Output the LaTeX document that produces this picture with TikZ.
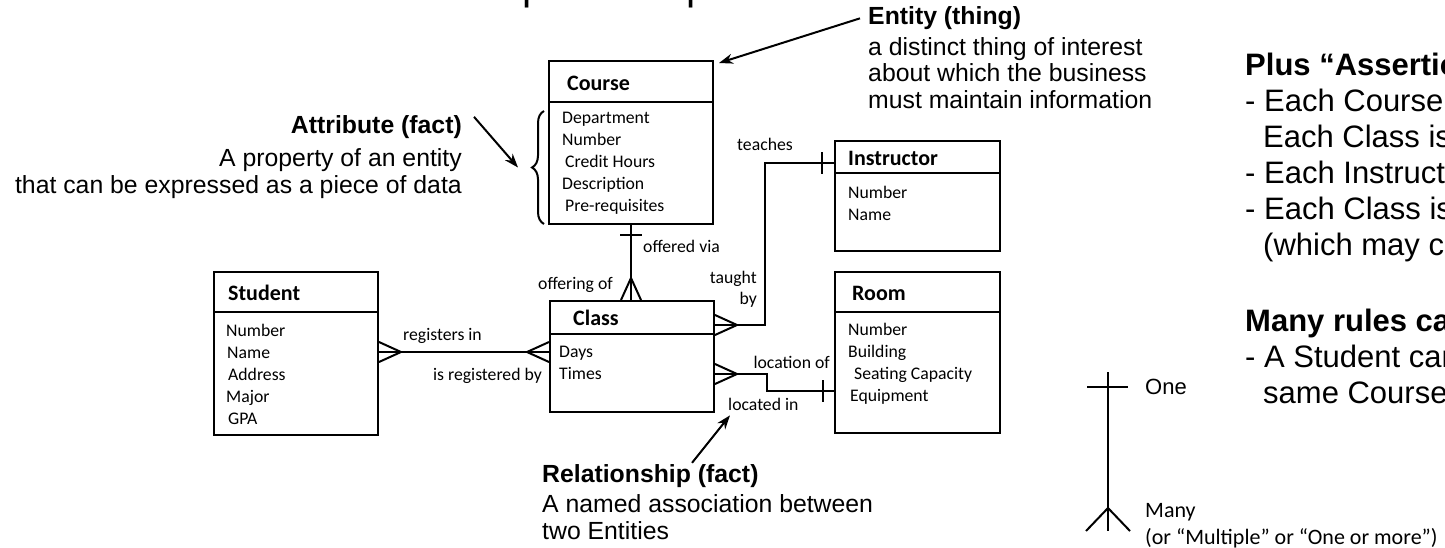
\documentclass[tikz,border=0pt]{standalone}
\usepackage{fontspec}
\setmainfont{Liberation Sans}
\newfontfamily\erdfont{Carlito}
\usetikzlibrary{calc,arrows.meta,decorations.pathreplacing}

\tikzset{
  ent/.style={draw, line width=2pt, anchor=north west, inner sep=0pt},
  sepline/.style={line width=2pt},
  enttitle/.style={font=\erdfont\bfseries\fontsize{22}{26}\selectfont, anchor=base west, inner sep=0pt},
  attr/.style={font=\erdfont\fontsize{17.7}{22}\selectfont, anchor=base west, inner sep=0pt},
  rel/.style={line width=2pt},
  lbl/.style={font=\erdfont\fontsize{17.7}{21}\selectfont, inner sep=0pt},
  annotext/.style={font=\fontsize{24.8}{26.5}\selectfont, inner sep=0pt},
  rulestext/.style={font=\fontsize{31}{36}\selectfont, align=left, anchor=base west, inner sep=0pt},
  pointer/.style={line width=2pt, -{Stealth[length=14pt,width=10pt]}},
  pics/crow/.style={code={\draw[rel] (0,-10) -- (22,0) -- (0,10);}},
  pics/onebar/.style={code={\draw[rel] (0,-11) -- (0,11);}},
}

\begin{document}
\begin{tikzpicture}[x=1pt, y=-1pt]
\path[use as bounding box] (0,0) rectangle (1445,547);
\clip (0,0) rectangle (1445,547);

% title, cut off at the top edge
\node[anchor=base west, inner sep=0pt, font=\fontsize{41}{41}\selectfont] (title) at (454,-1) {Graphic components};

% entities
\node[ent, minimum width=164pt, minimum height=163pt] (course) at (548,60) {};
\draw[sepline] ($(course.north west)+(0,42)$) -- ($(course.north east)+(0,42)$);
\node[enttitle] (course-t) at ($(course.north west)+(19,30)$) {Course};
\foreach \a [count=\i] in {Department,Number,\hspace{3pt}Credit Hours,Description,\hspace{3pt}Pre-requisites}
  \node[attr] (course-\i) at ($(course.north west)+(14,41+22*\i)$) {\a};

\node[ent, minimum width=164pt, minimum height=163pt] (student) at (213,271) {};
\draw[sepline] ($(student.north west)+(0,41)$) -- ($(student.north east)+(0,41)$);
\node[enttitle] (student-t) at ($(student.north west)+(15,29)$) {Student};
\foreach \a [count=\i] in {Number,\hspace{1pt}Name,\hspace{2pt}Address,Major,\hspace{2pt}GPA}
  \node[attr] (student-\i) at ($(student.north west)+(13,43+22*\i)$) {\a};

\node[ent, minimum width=165pt, minimum height=110pt] (instructor) at (834,140) {};
\draw[sepline] ($(instructor.north west)+(0,33)$) -- ($(instructor.north east)+(0,33)$);
\node[enttitle] (instructor-t) at ($(instructor.north west)+(14,25)$) {Instructor};
\foreach \a [count=\i] in {Number,Name}
  \node[attr] (instructor-\i) at ($(instructor.north west)+(14,36+22*\i)$) {\a};

\node[ent, minimum width=165pt, minimum height=161pt] (room) at (834,271) {};
\draw[sepline] ($(room.north west)+(0,41)$) -- ($(room.north east)+(0,41)$);
\node[enttitle] (room-t) at ($(room.north west)+(18,29)$) {Room};
\foreach \a [count=\i] in {Number,Building,\hspace{6pt}Seating Capacity,\hspace{2pt}Equipment}
  \node[attr] (room-\i) at ($(room.north west)+(14,42+22*\i)$) {\a};

\node[ent, minimum width=164pt, minimum height=111pt] (cls) at (549,300) {};
\draw[sepline] ($(cls.north west)+(0,34)$) -- ($(cls.north east)+(0,34)$);
\node[enttitle] (cls-t) at ($(cls.north west)+(24,25)$) {Class};
\foreach \a [count=\i] in {Days,Times}
  \node[attr] (cls-\i) at ($(cls.north west)+(10,35+22*\i)$) {\a};

% relationships
\draw[rel] (course.south) -- (course.south |- cls.north);
\pic[rotate=90] at ($(course.south)+(0,10)$) {onebar};
\pic[rotate=90] at (course.south |- cls.north) {crow};

\draw[rel] ($(student.north east)+(0,81)$) -- ($(cls.north west)+(0,52)$);
\pic at ($(student.north east)+(0,81)$) {crow};
\pic[rotate=180] at ($(cls.north west)+(0,52)$) {crow};

\draw[rel] ($(cls.north east)+(0,25)$) -| ($(instructor.north west)+(-69,23)$) -- ($(instructor.north west)+(0,23)$);
\pic at ($(cls.north east)+(0,25)$) {crow};
\pic at ($(instructor.north west)+(-12,23)$) {onebar};

\draw[rel] ($(cls.north east)+(0,74)$) -- ++(52,0) |- ($(room.north west)+(0,120)$);
\pic at ($(cls.north east)+(0,74)$) {crow};
\pic at ($(room.north west)+(-11,120)$) {onebar};

\node[lbl, anchor=base west] (offvia) at (643,252) {offered via};
\node[lbl, anchor=base east] (offof) at (613,289) {offering of};
\node[lbl, anchor=base] (teaches) at (765,150) {teaches};
\node[lbl, anchor=base east, align=right] (taughtby) at (757,304) {taught\\by};
\node[lbl, anchor=base west] (regin) at (403,340) {registers in};
\node[lbl, anchor=base east] (regby) at (542,380) {is registered by};
\node[lbl, anchor=base east] (locof) at (830,368) {location of};
\node[lbl, anchor=base west] (locin) at (728,410) {located in};

% annotations
\draw[line width=2pt, decorate, decoration={brace, amplitude=12pt}] ($(course.south west)+(-4,-1)$) -- ($(course.north west)+(-4,51)$);
\node[annotext, align=right, anchor=base east] (attrnote) at (462,193) {\textbf{Attribute (fact)}\\[7pt]A property of an entity\\that can be expressed as a piece of data};
\draw[pointer] ($(attrnote.north east)+(12,2)$) -- ($(course.west)+(-30,25)$);

\node[annotext, align=left, anchor=base west] (entnote) at (868,108) {\textbf{Entity (thing)}\\[4pt]a distinct thing of interest\\about which the business\\must maintain information};
\draw[pointer] ($(entnote.north west)+(-8,12)$) -- ($(course.north east)+(5,3)$);

\node[annotext, align=left, anchor=base west] (relnote) at (542,539) {\textbf{Relationship (fact)}\\[4pt]A named association between\\two Entities};
\draw[pointer] ($(relnote.north west)+(150,-1)$) -- ($(locin.south west)+(2,5)$);

% rules, cut off at the right edge
\node[rulestext] (plus) at (1245,255) {\textbf{Plus “Assertions”}\\- Each Course is offered\\\hspace*{18pt}Each Class is\\- Each Instructor\\- Each Class is\\\hspace*{18pt}(which may change)};
\node[rulestext] (many) at (1245,403) {\textbf{Many rules cannot}\\- A Student cannot\\\hspace*{18pt}same Course};

% legend
\coordinate (legtop) at (1108,372);
\coordinate (legbot) at (1108,531);
\draw[rel] (legtop) -- (legbot);
\draw[rel] ($(legtop)+(-21,15)$) -- ++(41,0);
\draw[rel] ($(legbot)+(-22,0)$) -- ($(legbot)+(0,-23)$) -- ($(legbot)+(22,0)$);
\node[anchor=base west, inner sep=0pt, font=\fontsize{22}{26}\selectfont] (one) at (1145,394) {One};
\node[anchor=base west, inner sep=0pt, font=\erdfont\fontsize{22}{26}\selectfont] (manyl) at (1145,517) {Many};
\node[anchor=base west, inner sep=0pt, font=\erdfont\fontsize{22}{26}\selectfont] (multi) at (1145,544) {(or “Multiple” or “One or more”)};
\end{tikzpicture}
\end{document}
